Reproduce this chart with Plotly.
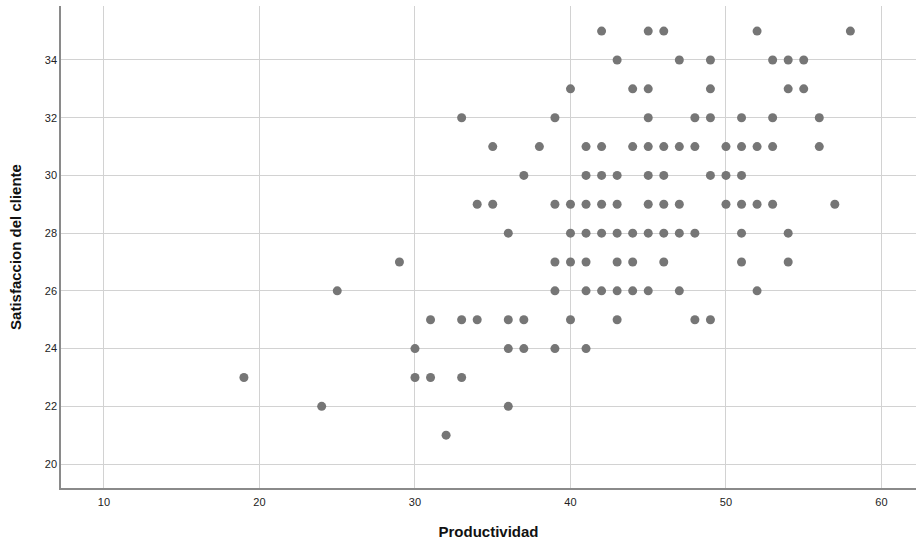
import plotly.graph_objects as go

# Data: (Productividad, Satisfaccion) grouped by satisfaction row
rows = {
    35: [42, 45, 46, 52, 58],
    34: [43, 47, 49, 53, 54, 55],
    33: [40, 44, 45, 49, 54, 55],
    32: [33, 39, 45, 48, 49, 51, 53, 56],
    31: [35, 38, 41, 42, 44, 45, 46, 47, 48, 50, 51, 52, 53, 56],
    30: [37, 41, 42, 43, 45, 46, 49, 50, 51],
    29: [34, 35, 39, 40, 41, 42, 43, 45, 46, 47, 50, 51, 52, 53, 57],
    28: [36, 40, 41, 42, 43, 44, 45, 46, 47, 48, 51, 54],
    27: [29, 39, 40, 41, 43, 44, 46, 51, 54],
    26: [25, 39, 41, 42, 43, 44, 45, 47, 52],
    25: [31, 33, 34, 36, 37, 40, 43, 48, 49],
    24: [30, 36, 37, 39, 41],
    23: [19, 30, 31, 33],
    22: [24, 36],
    21: [32],
}
productividad = [x for y, xs in rows.items() for x in xs]
satisfaccion = [y for y, xs in rows.items() for x in xs]

x_ticks = [10, 20, 30, 40, 50, 60]
y_ticks = [20, 22, 24, 26, 28, 30, 32, 34]

fig = go.Figure(go.Scatter(
    x=productividad, y=satisfaccion, mode="markers",
    marker=dict(size=9, color="#767676", line=dict(width=0)),
    hoverinfo="x+y",
))

grid = "#d2d2d2"
fig.update_layout(
    width=917, height=547,
    margin=dict(l=61, r=1, t=6, b=59),
    paper_bgcolor="white", plot_bgcolor="white",
    font=dict(family="Liberation Sans, Arial, sans-serif", color="#222"),
    showlegend=False,
)
fig.update_xaxes(
    range=[7.235, 62.22], tickvals=x_ticks, showgrid=True, gridcolor=grid, gridwidth=1,
    zeroline=False, showline=True, linecolor="#8a8a8a", linewidth=1.5,
    ticks="", tickfont=dict(size=11, color="#222"), automargin=False,
    ticklabelstandoff=3,
    title=dict(text="<b>Productividad</b>", font=dict(size=15, color="#111"), standoff=20),
)
fig.update_yaxes(
    range=[19.17, 35.87], tickvals=y_ticks, showgrid=True, gridcolor=grid, gridwidth=1,
    zeroline=False, showline=True, linecolor="#8a8a8a", linewidth=1.5,
    ticks="", tickfont=dict(size=11, color="#222"), automargin=False,
    title=dict(text="<b>Satisfaccion del cliente</b>", font=dict(size=15, color="#111"), standoff=20),
)

fig.write_html("out.html", config={"displayModeBar": False},
               post_script="document.body.style.margin='0';")
